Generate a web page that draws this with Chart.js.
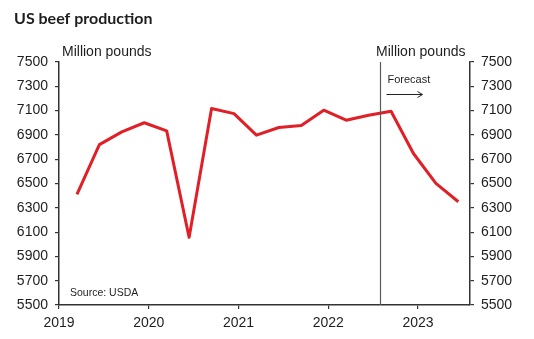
<!DOCTYPE html>
<html>
<head>
<meta charset="utf-8">
<script src="https://cdn.jsdelivr.net/npm/chart.js@4"></script>
<style>
  html, body { margin: 0; padding: 0; background: #fff; }
  #wrap { width: 534px; height: 339px; }
</style>
</head>
<body>
<div id="wrap"><canvas id="beefChart" width="534" height="339"></canvas></div>
<script>
// quarterly US beef production, million pounds (2022 Q3 on = forecast)
const quarters = ['2019 Q1', '2019 Q2', '2019 Q3', '2019 Q4',
                  '2020 Q1', '2020 Q2', '2020 Q3', '2020 Q4',
                  '2021 Q1', '2021 Q2', '2021 Q3', '2021 Q4',
                  '2022 Q1', '2022 Q2', '2022 Q3', '2022 Q4',
                  '2023 Q1', '2023 Q2'];
const production = [6410, 6820, 6925, 7000,
                    6933, 6057, 7117, 7075,
                    6898, 6961, 6977, 7103,
                    7021, 7062, 7095, 6747,
                    6501, 6350];
const yearTicks = [2019, 2020, 2021, 2022, 2023];
const yTicks = [5500, 5700, 5900, 6100, 6300, 6500, 6700, 6900, 7100, 7300, 7500];

const xMin = 2019, xMax = 2023.58;
const forecastAt = 2022.58;
const pointOffset = 0.2; // where a quarter's point sits inside the quarter

const lineRed = '#e01f27';
const axisColor = '#333333';
const textColor = '#1e1e1e';

const points = quarters.map((q, i) => {
    const year = parseInt(q.slice(0, 4));
    const qn = parseInt(q.slice(-1));
    return { x: year + (qn - 1) * 0.25 + pointOffset, y: production[i] };
});

const extras = {
    id: 'extras',
    afterDraw(chart) {
        const ctx = chart.ctx;
        const area = chart.chartArea;
        const xs = chart.scales.x;
        ctx.save();

        // forecast divider
        const fx = Math.round(xs.getPixelForValue(forecastAt)) + 0.5;
        ctx.strokeStyle = '#5a5a5a';
        ctx.lineWidth = 1.2;
        ctx.beginPath();
        ctx.moveTo(fx, area.top);
        ctx.lineTo(fx, area.bottom);
        ctx.stroke();

        ctx.fillStyle = textColor;
        ctx.textBaseline = 'middle';

        ctx.font = 'bold 16px Lato, "Open Sans", sans-serif';
        ctx.textAlign = 'left';
        ctx.fillText('US beef production', 14, 19);

        ctx.font = '14px "Liberation Sans", Arial, sans-serif';
        ctx.fillText('Million pounds', 62, 52);
        ctx.fillText('Million pounds', 376, 52);

        ctx.font = '11px "Liberation Sans", Arial, sans-serif';
        ctx.fillText('Forecast', fx + 7, 80);

        // arrow
        ctx.strokeStyle = '#222';
        ctx.lineWidth = 1;
        ctx.beginPath();
        ctx.moveTo(fx + 6, 94.5);
        ctx.lineTo(fx + 42, 94.5);
        ctx.moveTo(fx + 37, 91.5);
        ctx.lineTo(fx + 42, 94.5);
        ctx.lineTo(fx + 37, 97.5);
        ctx.stroke();

        ctx.font = '10.5px "Liberation Sans", Arial, sans-serif';
        ctx.fillText('Source: USDA', 70, 293);

        ctx.restore();
    }
};

const yAxisBase = (pos, width) => ({
    position: pos,
    min: 5500,
    max: 7500,
    afterBuildTicks: axis => { axis.ticks = yTicks.map(v => ({ value: v })); },
    afterFit: axis => { axis.width = width; },
    border: { display: true, color: axisColor, width: 1.5 },
    grid: { display: true, drawOnChartArea: false, drawTicks: true, tickLength: 4, color: axisColor, lineWidth: 1.2 },
    ticks: {
        color: textColor,
        padding: 7,
        callback: v => String(v),
        font: { family: '"Liberation Sans", Arial, sans-serif', size: 14 }
    }
});

new Chart(document.getElementById('beefChart'), {
    type: 'line',
    data: {
        datasets: [{
            label: 'US beef production',
            data: points,
            borderColor: lineRed,
            borderWidth: 3,
            borderJoinStyle: 'round',
            pointRadius: 0,
            tension: 0,
            fill: false
        }]
    },
    options: {
        responsive: false,
        animation: false,
        layout: { padding: { top: 62, left: 0, right: 0, bottom: 0 } },
        plugins: {
            legend: { display: false },
            tooltip: { enabled: false }
        },
        scales: {
            x: {
                type: 'linear',
                min: xMin,
                max: xMax,
                afterBuildTicks: axis => { axis.ticks = yearTicks.map(v => ({ value: v })); },
                afterFit: axis => { axis.height = 34; },
                border: { display: true, color: axisColor, width: 1.5 },
                grid: { display: true, drawOnChartArea: false, drawTicks: true, tickLength: 4, color: axisColor, lineWidth: 1.2 },
                ticks: {
                    color: textColor,
                    padding: 6,
                    maxRotation: 0,
                    callback: v => String(v),
                    font: { family: '"Liberation Sans", Arial, sans-serif', size: 14 }
                }
            },
            y: yAxisBase('left', 59),
            y2: yAxisBase('right', 64)
        }
    },
    plugins: [extras]
});
</script>
</body>
</html>
